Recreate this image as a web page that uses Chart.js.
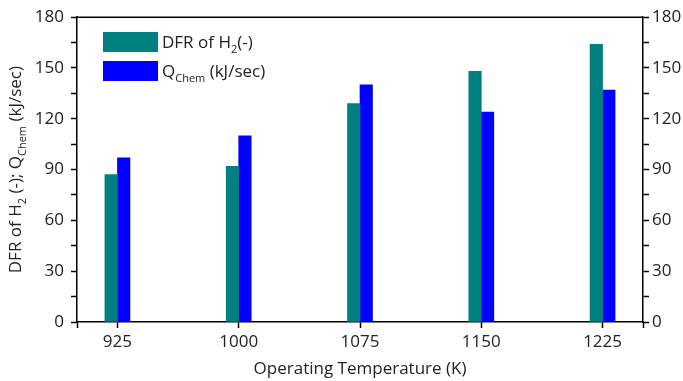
<!DOCTYPE html>
<html>
<head>
<meta charset="utf-8">
<script src="https://cdn.jsdelivr.net/npm/chart.js@4/dist/chart.umd.min.js"></script>
<style>
    html, body { margin: 0; padding: 0; background: #fff; }
    #wrap { width: 683px; height: 381px; }
</style>
</head>
<body>
<div id="wrap"><canvas id="chart"></canvas></div>
<script>
// Data
const temperatures = [925, 1000, 1075, 1150, 1225];
const dfrH2 = [87, 92, 129, 148, 164];
const qChem = [97, 110, 140, 124, 137];
const yTicks = [0, 30, 60, 90, 120, 150, 180];

// Text with subscripts: [text, isSub]
const legendDfr = [['DFR of H', false], ['2', true], ['(-)', false]];
const legendQ = [['Q', false], ['Chem', true], [' (kJ/sec)', false]];
const yTitle = [['DFR of H', false], ['2', true], [' (-); Q', false], ['Chem', true], [' (kJ/sec)', false]];

const FONT = '"Open Sans", sans-serif';
const TEXT = '#222';

// draw a run of text with subscripts, starting at x, baseline y
function richWidth(ctx, parts) {
    let w = 0;
    parts.forEach(p => {
        ctx.font = (p[1] ? '11px ' : '17px ') + FONT;
        w += ctx.measureText(p[0]).width;
    });
    return w;
}

function drawRich(ctx, parts, x, y) {
    parts.forEach(p => {
        ctx.font = (p[1] ? '11px ' : '17px ') + FONT;
        ctx.fillText(p[0], x, p[1] ? y + 5 : y);
        x += ctx.measureText(p[0]).width;
    });
}

const extrasPlugin = {
    id: 'extras',
    afterDraw(chart) {
        const ctx = chart.ctx;
        const area = chart.chartArea;
        ctx.save();

        // top frame line
        ctx.strokeStyle = '#000';
        ctx.lineWidth = 1.5;
        ctx.beginPath();
        ctx.moveTo(area.left, area.top);
        ctx.lineTo(area.right, area.top);
        ctx.stroke();

        // legend
        const ds = chart.data.datasets;
        ctx.fillStyle = ds[0].backgroundColor;
        ctx.fillRect(103, 32, 55, 20);
        ctx.fillStyle = ds[1].backgroundColor;
        ctx.fillRect(103, 61, 55, 20);
        ctx.fillStyle = TEXT;
        ctx.textBaseline = 'alphabetic';
        ctx.textAlign = 'left';
        drawRich(ctx, legendDfr, 162, 48);
        drawRich(ctx, legendQ, 162, 77);

        // y axis title, rotated
        ctx.translate(21, (area.top + area.bottom) / 2);
        ctx.rotate(-Math.PI / 2);
        const w = richWidth(ctx, yTitle);
        drawRich(ctx, yTitle, -w / 2, 0);
        ctx.restore();
    }
};

const tickFont = { family: FONT, size: 17 };

new Chart(document.getElementById('chart'), {
    type: 'bar',
    data: {
        datasets: [
            {
                label: 'DFR of H2(-)',
                data: temperatures.map((t, i) => ({ x: t, y: dfrH2[i] })),
                backgroundColor: '#008080',
                yAxisID: 'y'
            },
            {
                label: 'QChem (kJ/sec)',
                data: temperatures.map((t, i) => ({ x: t, y: qChem[i] })),
                backgroundColor: '#0000ff',
                yAxisID: 'y'
            }
        ]
    },
    options: {
        responsive: true,
        maintainAspectRatio: false,
        animation: false,
        layout: { padding: { top: 17, left: 0, right: 0, bottom: 0 } },
        datasets: {
            bar: { barThickness: 12.5, grouped: true }
        },
        plugins: {
            legend: { display: false },
            tooltip: { enabled: false }
        },
        scales: {
            x: {
                type: 'linear',
                offset: false,
                min: 900,
                max: 1250,
                afterBuildTicks: s => {
                    s.ticks = [900].concat(temperatures, [1250]).map(v => ({ value: v }));
                },
                afterFit: s => { s.height = 59; },
                ticks: {
                    font: tickFont,
                    color: TEXT,
                    padding: 4,
                    maxRotation: 0,
                    autoSkip: false,
                    callback: v => temperatures.includes(v) ? String(v) : ''
                },
                grid: { offset: false, drawOnChartArea: false, color: '#000', tickLength: 6, tickWidth: 1.5 },
                border: { color: '#000', width: 1.5 },
                title: {
                    display: true,
                    text: 'Operating Temperature (K)',
                    color: TEXT,
                    font: { family: FONT, size: 17 },
                    padding: { top: 0, bottom: 2 }
                }
            },
            y: {
                position: 'left',
                min: 0,
                max: 180,
                afterFit: s => { s.width = 77; },
                ticks: {
                    stepSize: 15,
                    font: tickFont,
                    color: TEXT,
                    padding: 7,
                    callback: v => yTicks.includes(v) ? String(v) : ''
                },
                grid: { drawOnChartArea: false, color: '#000', tickLength: 6, tickWidth: 1.5 },
                border: { color: '#000', width: 1.5 }
            },
            y2: {
                position: 'right',
                min: 0,
                max: 180,
                afterFit: s => { s.width = 40; },
                ticks: {
                    stepSize: 15,
                    font: tickFont,
                    color: TEXT,
                    padding: 3,
                    callback: v => yTicks.includes(v) ? String(v) : ''
                },
                grid: { drawOnChartArea: false, color: '#000', tickLength: 6, tickWidth: 1.5 },
                border: { color: '#000', width: 1.5 }
            }
        }
    },
    plugins: [extrasPlugin]
});
</script>
</body>
</html>
